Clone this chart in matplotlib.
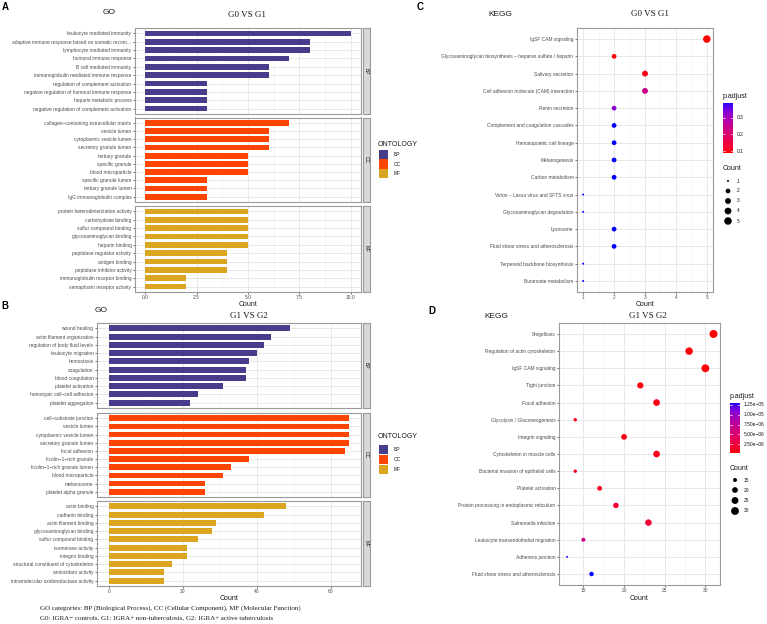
import numpy as np
import matplotlib
matplotlib.use('Agg')
import matplotlib.pyplot as plt
from matplotlib.colors import ListedColormap, Normalize
from matplotlib.patches import Rectangle

W, H = 767, 624
SANS = 'Liberation Sans'
SERIF = 'Liberation Serif'

# ---------------- data ----------------
a_bp_terms = ["leukocyte mediated immunity", "adaptive immune response based on somatic recom...",
              "lymphocyte mediated immunity", "humoral immune response", "B cell mediated immunity",
              "immunoglobulin mediated immune response", "regulation of complement activation",
              "negative regulation of humoral immune response", "heparin metabolic process",
              "negative regulation of complement activation"]
a_bp_counts = [10, 8, 8, 7, 6, 6, 3, 3, 3, 3]
a_cc_terms = ["collagen−containing extracellular matrix", "vesicle lumen", "cytoplasmic vesicle lumen",
              "secretory granule lumen", "tertiary granule", "specific granule", "blood microparticle",
              "specific granule lumen", "tertiary granule lumen", "IgG immunoglobulin complex"]
a_cc_counts = [7, 6, 6, 6, 5, 5, 5, 3, 3, 3]
a_mf_terms = ["protein heterodimerization activity", "carbohydrate binding", "sulfur compound binding",
              "glycosaminoglycan binding", "heparin binding", "peptidase regulator activity",
              "antigen binding", "peptidase inhibitor activity", "immunoglobulin receptor binding",
              "semaphorin receptor activity"]
a_mf_counts = [5, 5, 5, 5, 5, 4, 4, 4, 2, 2]

b_bp_terms = ["wound healing", "actin filament organization", "regulation of body fluid levels",
              "leukocyte migration", "hemostasis", "coagulation", "blood coagulation",
              "platelet activation", "homotypic cell−cell adhesion", "platelet aggregation"]
b_bp_counts = [49, 44, 42, 40, 38, 37, 37, 31, 24, 22]
b_cc_terms = ["cell−substrate junction", "vesicle lumen", "cytoplasmic vesicle lumen",
              "secretory granule lumen", "focal adhesion", "ficolin−1−rich granule",
              "ficolin−1−rich granule lumen", "blood microparticle", "melanosome", "platelet alpha granule"]
b_cc_counts = [65, 65, 65, 65, 64, 38, 33, 31, 26, 26]
b_mf_terms = ["actin binding", "cadherin binding", "actin filament binding", "glycosaminoglycan binding",
              "sulfur compound binding", "isomerase activity", "integrin binding",
              "structural constituent of cytoskeleton", "antioxidant activity",
              "intramolecular oxidoreductase activity"]
b_mf_counts = [48, 42, 29, 28, 24, 21, 21, 17, 15, 15]

ontology_names = ["BP", "CC", "MF"]
ontology_colors = ["#483D8B", "#FF4500", "#DAA520"]

c_terms = ["IgSF CAM signaling", "Glycosaminoglycan biosynthesis – heparan sulfate / heparin",
           "Salivary secretion", "Cell adhesion molecule (CAM) interaction", "Renin secretion",
           "Complement and coagulation cascades", "Hematopoietic cell lineage", "Melanogenesis",
           "Carbon metabolism", "Virion – Lassa virus and SFTS virus", "Glycosaminoglycan degradation",
           "Lysosome", "Fluid shear stress and atherosclerosis", "Terpenoid backbone biosynthesis",
           "Butanoate metabolism"]
c_counts = [5, 2, 3, 3, 2, 2, 2, 2, 2, 1, 1, 2, 2, 1, 1]
c_padj = [0.088, 0.09, 0.10, 0.24, 0.33, 0.39, 0.39, 0.39, 0.39, 0.39, 0.39, 0.39, 0.39, 0.39, 0.39]
c_size_breaks = [1, 2, 3, 4, 5]
c_padj_breaks = [0.1, 0.2, 0.3]

d_terms = ["Shigellosis", "Regulation of actin cytoskeleton", "IgSF CAM signaling", "Tight junction",
           "Focal adhesion", "Glycolysis / Gluconeogenesis", "Integrin signaling",
           "Cytoskeleton in muscle cells", "Bacterial invasion of epithelial cells", "Platelet activation",
           "Protein processing in endoplasmic reticulum", "Salmonella infection",
           "Leukocyte transendothelial migration", "Adherens junction",
           "Fluid shear stress and atherosclerosis"]
d_counts = [31, 28, 30, 22, 24, 14, 20, 24, 14, 17, 19, 23, 15, 13, 16]
d_padj = [3e-7, 5e-7, 4e-7, 6e-7, 8e-7, 9e-7, 7e-7, 1.0e-6, 1.2e-6, 1.4e-6, 1.8e-6, 2.2e-6,
          6.5e-6, 1.25e-5, 1.3e-5]
d_size_breaks = [15, 20, 25, 30]
d_padj_breaks = [2.5e-6, 5e-6, 7.5e-6, 1e-5, 1.25e-5]
d_padj_labels = ["2.50e−06", "5.00e−06", "7.50e−06", "1.00e−05", "1.25e−05"]

# ---------------- colour map (ggplot-like Lab gradient red -> blue) ----------------
def _srgb_to_lab(rgb):
    rgb = np.asarray(rgb, float)
    lin = np.where(rgb <= 0.04045, rgb / 12.92, ((rgb + 0.055) / 1.055) ** 2.4)
    M = np.array([[0.4124, 0.3576, 0.1805], [0.2126, 0.7152, 0.0722], [0.0193, 0.1192, 0.9505]])
    xyz = M @ lin / np.array([0.95047, 1.0, 1.08883])
    f = np.where(xyz > 0.008856, np.cbrt(xyz), 7.787 * xyz + 16 / 116)
    return np.array([116 * f[1] - 16, 500 * (f[0] - f[1]), 200 * (f[1] - f[2])])

def _lab_to_srgb(lab):
    L, a, b = lab
    fy = (L + 16) / 116
    fx = fy + a / 500
    fz = fy - b / 200
    f = np.array([fx, fy, fz])
    xyz = np.where(f ** 3 > 0.008856, f ** 3, (f - 16 / 116) / 7.787) * np.array([0.95047, 1.0, 1.08883])
    Minv = np.array([[3.2406, -1.5372, -0.4986], [-0.9689, 1.8758, 0.0415], [0.0557, -0.2040, 1.0570]])
    lin = np.clip(Minv @ xyz, 0, 1)
    rgb = np.where(lin <= 0.0031308, 12.92 * lin, 1.055 * lin ** (1 / 2.4) - 0.055)
    return np.clip(rgb, 0, 1)

_l0 = _srgb_to_lab([1, 0, 0])
_l1 = _srgb_to_lab([0, 0, 1])
cmap = ListedColormap([_lab_to_srgb(_l0 + (_l1 - _l0) * t) for t in np.linspace(0, 1, 256)])

# ---------------- figure helpers ----------------
fig = plt.figure(figsize=(W / 100, H / 100), dpi=100)
fig.patch.set_facecolor('white')

def axpx(l, t, r, b):
    return fig.add_axes([l / W, 1 - b / H, (r - l) / W, (b - t) / H])

def ftext(x, y, s, **kw):
    kw.setdefault('family', SANS)
    fig.text(x / W, 1 - y / H, s, **kw)

BORDER = '#9a9a9a'
GRID = '#E8E8E8'
TICKC = '#4d4d4d'

def style_axes(ax):
    for sp in ax.spines.values():
        sp.set_color(BORDER)
        sp.set_linewidth(0.8)
    ax.set_axisbelow(True)
    ax.grid(True, which='major', color=GRID, lw=0.7)
    ax.grid(True, which='minor', axis='x', color='#F0F0F0', lw=0.4)
    ax.tick_params(axis='both', which='major', length=1.6, width=0.5, color='#333333', pad=1.0,
                   labelsize=3.5, labelcolor=TICKC)
    ax.tick_params(axis='x', which='major', pad=0.6)
    ax.tick_params(axis='x', which='minor', length=0)
    for lab in ax.get_xticklabels() + ax.get_yticklabels():
        lab.set_family(SANS)

def facet_bars(l, r, boxes, groups, xmax, xticks, xticklabels, minor):
    for i, ((t, b), (name, terms, vals, color)) in enumerate(zip(boxes, groups)):
        ax = axpx(l, t, r, b)
        n = len(terms)
        y = np.arange(n)
        ax.barh(y, vals, height=0.7, color=color, edgecolor='none', zorder=3)
        ax.set_ylim(n - 1 + 0.65, -0.65)
        ax.set_xlim(-0.05 * xmax, 1.05 * xmax)
        ax.set_yticks(y)
        ax.set_yticklabels(terms)
        ax.set_xticks(xticks)
        ax.set_xticks(minor, minor=True)
        if i == len(groups) - 1:
            ax.set_xticklabels(xticklabels)
        else:
            ax.set_xticklabels([])
        style_axes(ax)
        if i != len(groups) - 1:
            ax.tick_params(axis='x', which='major', length=0)
        sax = axpx(r + 2, t, r + 9, b)
        sax.set_facecolor('#D9D9D9')
        sax.set_xticks([]); sax.set_yticks([])
        for sp in sax.spines.values():
            sp.set_color(BORDER); sp.set_linewidth(0.8)
        sax.text(0.5, 0.5, name, rotation=270, ha='center', va='center', fontsize=3.6,
                 color='#1a1a1a', family=SANS, transform=sax.transAxes)

def ontology_legend(x, ytitle, ycenters):
    ftext(x, ytitle, "ONTOLOGY", fontsize=5, ha='left', va='center', color='#1a1a1a')
    for yc, nm, col in zip(ycenters, ontology_names, ontology_colors):
        fig.add_artist(Rectangle(((x + 1) / W, 1 - (yc + 4.6) / H), 9.5 / W, 9.2 / H,
                                 transform=fig.transFigure, facecolor=col, edgecolor='none'))
        ftext(x + 16, yc, nm, fontsize=3.6, ha='left', va='center', color='#1a1a1a')

def size_px(v, vmin, vmax, dmin, dmax):
    v = np.asarray(v, float)
    return dmin + (dmax - dmin) * np.sqrt((v - vmin) / (vmax - vmin))

def dotplot(l, t, r, b, terms, counts, padj, xlim, xticks, minor, dmin, dmax, norm):
    ax = axpx(l, t, r, b)
    n = len(terms)
    y = np.arange(n)
    d = size_px(counts, min(counts), max(counts), dmin, dmax)
    ax.scatter(counts, y, s=(d * 0.72) ** 2, c=padj, cmap=cmap, norm=norm, edgecolors='none', zorder=3)
    ax.set_ylim(n - 1 + 0.64, -0.64)
    ax.set_xlim(*xlim)
    ax.set_yticks(y)
    ax.set_yticklabels(terms)
    ax.set_xticks(xticks)
    ax.set_xticks(minor, minor=True)
    ax.set_xticklabels([str(v) for v in xticks])
    style_axes(ax)
    return ax

def colorbar(l, t, r, b, norm, breaks, labels):
    cax = axpx(l, t, r, b)
    vals = np.linspace(norm.vmin, norm.vmax, 256)[:, None]
    cax.imshow(vals, cmap=cmap, norm=norm, origin='lower', aspect='auto',
               extent=[0, 1, norm.vmin, norm.vmax])
    cax.set_xlim(0, 1); cax.set_ylim(norm.vmin, norm.vmax)
    cax.axis('off')
    for v, lab in zip(breaks, labels):
        cax.plot([0, 0.2], [v, v], color='white', lw=0.5)
        cax.plot([0.8, 1], [v, v], color='white', lw=0.5)
        ypx = b - (v - norm.vmin) / (norm.vmax - norm.vmin) * (b - t)
        ftext(r + 4, ypx, lab, fontsize=3.5, ha='left', va='center', color='#1a1a1a')

# overlay axes in pixel coordinates for the size legends
lax = fig.add_axes([0, 0, 1, 1], facecolor='none')
lax.set_xlim(0, W); lax.set_ylim(H, 0); lax.axis('off')

def size_legend(x, ytitle, ys, breaks, vmin, vmax, dmin, dmax):
    ftext(x, ytitle, "Count", fontsize=5, ha='left', va='center', color='#1a1a1a')
    d = size_px(breaks, vmin, vmax, dmin, dmax)
    for yy, bk in zip(ys, breaks):
        ftext(x + 14, yy, str(bk), fontsize=3.5, ha='left', va='center', color='#1a1a1a')
    lax.scatter([x + 5] * len(ys), ys, s=(d * 0.72) ** 2, color='black', edgecolors='none')

# ---------------- Panel A ----------------
facet_bars(135, 361, [(28, 114), (117.5, 202), (206, 292)],
           [("BP", a_bp_terms, a_bp_counts, ontology_colors[0]),
            ("CC", a_cc_terms, a_cc_counts, ontology_colors[1]),
            ("MF", a_mf_terms, a_mf_counts, ontology_colors[2])],
           10, [0, 2.5, 5, 7.5, 10], ["0.0", "2.5", "5.0", "7.5", "10.0"],
           [1.25, 3.75, 6.25, 8.75])
ftext(248, 304.5, "Count", fontsize=5, ha='center', va='center', color='#1a1a1a')
ontology_legend(378, 144, [154.5, 164, 173.5])
ftext(5, 7, "A", fontsize=7, fontweight='bold', ha='center', va='center')
ftext(109, 12, "GO", fontsize=6, ha='center', va='center', color='#1a1a1a')
ftext(247, 15, "G0 VS G1", fontsize=6.5, ha='center', va='center', family=SERIF, color='#1a1a1a')

# ---------------- Panel B ----------------
facet_bars(97, 361, [(323, 408), (413, 497), (501, 586)],
           [("BP", b_bp_terms, b_bp_counts, ontology_colors[0]),
            ("CC", b_cc_terms, b_cc_counts, ontology_colors[1]),
            ("MF", b_mf_terms, b_mf_counts, ontology_colors[2])],
           65, [0, 20, 40, 60], ["0", "20", "40", "60"], [10, 30, 50])
ftext(229, 598.5, "Count", fontsize=5, ha='center', va='center', color='#1a1a1a')
ontology_legend(378, 437, [449.5, 459.5, 469.5])
ftext(5, 306, "B", fontsize=7, fontweight='bold', ha='center', va='center')
ftext(101, 310, "GO", fontsize=6, ha='center', va='center', color='#1a1a1a')
ftext(249, 316, "G1 VS G2", fontsize=6.5, ha='center', va='center', family=SERIF, color='#1a1a1a')

# ---------------- Panel C ----------------
norm_c = Normalize(vmin=0.088, vmax=0.39)
dotplot(577, 28, 713, 292, c_terms, c_counts, c_padj, (0.8, 5.2), [1, 2, 3, 4, 5],
        [1.5, 2.5, 3.5, 4.5], 2.0, 7.5, norm_c)
ftext(645, 304.5, "Count", fontsize=5, ha='center', va='center', color='#1a1a1a')
ftext(723, 97, "p.adjust", fontsize=5, ha='left', va='center', color='#1a1a1a')
colorbar(723, 103, 733, 153, norm_c, c_padj_breaks, ["0.1", "0.2", "0.3"])
ftext(420, 7, "C", fontsize=7, fontweight='bold', ha='center', va='center')
ftext(500, 14, "KEGG", fontsize=6, ha='center', va='center', color='#1a1a1a')
ftext(650, 14, "G0 VS G1", fontsize=6.5, ha='center', va='center', family=SERIF, color='#1a1a1a')

# ---------------- Panel D ----------------
norm_d = Normalize(vmin=3e-7, vmax=1.3e-5)
dotplot(559, 323, 720, 585, d_terms, d_counts, d_padj, (12.0, 31.8), [15, 20, 25, 30],
        [12.5, 17.5, 22.5, 27.5], 2.0, 8.0, norm_d)
ftext(639.5, 598.5, "Count", fontsize=5, ha='center', va='center', color='#1a1a1a')
ftext(730, 397, "p.adjust", fontsize=5, ha='left', va='center', color='#1a1a1a')
colorbar(730, 403, 740, 453, norm_d, d_padj_breaks, d_padj_labels)
ftext(432, 311, "D", fontsize=7, fontweight='bold', ha='center', va='center')
ftext(496, 316, "KEGG", fontsize=6, ha='center', va='center', color='#1a1a1a')
ftext(648, 316, "G1 VS G2", fontsize=6.5, ha='center', va='center', family=SERIF, color='#1a1a1a')

size_legend(723, 169, [181, 191, 201, 211, 221], c_size_breaks, min(c_counts), max(c_counts), 2.0, 7.5)
size_legend(730, 469, [480, 490, 500.5, 511], d_size_breaks, min(d_counts), max(d_counts), 2.0, 8.0)

# ---------------- footer ----------------
ftext(40, 608, "GO categories: BP (Biological Process), CC (Cellular Component), MF (Molecular Function)",
      fontsize=5, ha='left', va='center', family=SERIF, color='#1a1a1a')
ftext(40, 618, "G0: IGRA− controls, G1: IGRA+ non-tuberculosis, G2: IGRA+ active tuberculosis",
      fontsize=5, ha='left', va='center', family=SERIF, color='#1a1a1a')

fig.savefig("out.png", dpi=100, facecolor='white')
